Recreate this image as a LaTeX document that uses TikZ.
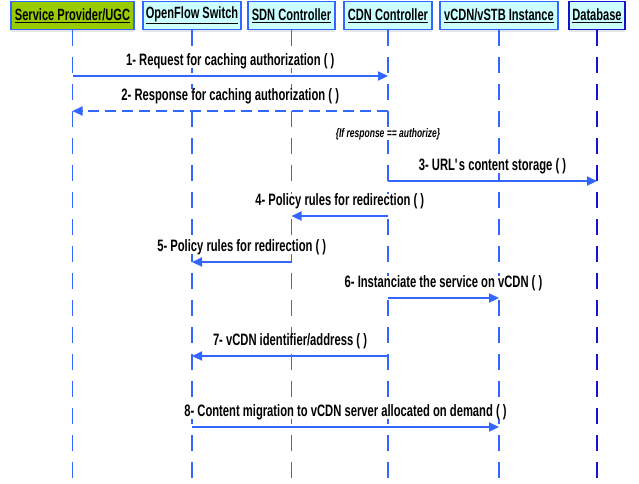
\documentclass[tikz,border=0pt]{standalone}
\usepackage{fontspec}
\setmainfont{Liberation Sans}[FakeStretch=0.68]
\usetikzlibrary{arrows.meta,positioning,shadows}
\definecolor{seqBlue}{RGB}{51,102,255}
\definecolor{seqBlueDark}{RGB}{20,20,205}
\definecolor{seqCyan}{RGB}{204,255,255}
\definecolor{seqGreen}{RGB}{153,204,0}
\tikzset{
  actor/.style={draw=seqBlue, line width=1.6pt, fill=seqCyan, minimum height=28pt, inner sep=0pt,
    font=\fontsize{16.3}{18}\selectfont\bfseries,
    drop shadow={shadow xshift=0pt, shadow yshift=-2.5pt, opacity=0.2}},
  lifeline/.style={seqBlue, line width=1.6pt, dash pattern=on 16pt off 11pt},
  msg/.style={seqBlue, line width=2.2pt, -{Triangle[length=10pt,width=9pt]}},
  reply/.style={msg, dash pattern=on 11pt off 6pt},
  lbl/.style={above=6.5pt, inner sep=0pt, text depth=0.25em, text=black, fill=white,
    font=\fontsize{16.5}{18}\selectfont\bfseries}
}

\begin{document}
\begin{tikzpicture}[x=1pt,y=-1pt]
\useasboundingbox (0,0) rectangle (639,483);
\coordinate (bottom) at (0,483);

% actors
\node[actor, fill=seqGreen, minimum width=123pt] (sp) at (72.5,15.5) {\underline{Service Provider/UGC}};
\node[actor, minimum width=98pt] (ofs) at (192,15.5) {\underline{OpenFlow Switch}};
\node[actor, minimum width=87pt] (sdn) at (291.5,15.5) {\underline{SDN Controller}};
\node[actor, minimum width=88pt] (cdn) at (388,15.5) {\underline{CDN Controller}};
\node[actor, minimum width=118pt] (vcdn) at (499,15.5) {\underline{vCDN/vSTB Instance}};
\node[actor, draw=seqBlueDark, minimum width=56pt] (db) at (597,15.5) {\underline{Database}};

\foreach \a in {sp,ofs,sdn,cdn,vcdn}{
  \draw[lifeline] (\a.south) -- (\a.south |- bottom);
}
\draw[lifeline, seqBlueDark] (db.south) -- (db.south |- bottom);

% messages
\draw[msg] (sp |- 0,76) -- node[lbl] (l1) {1- Request for caching authorization ( )} (cdn |- 0,76);
\draw[reply] (cdn |- 0,111) -- node[lbl] (l2) {2- Response for caching authorization ( )} (sp |- 0,111);
\node[fill=white, inner sep=0pt, font=\fontsize{12.5}{14}\selectfont\bfseries\itshape] (cond) at (388,134) {\{If response == authorize\}};
\draw[msg] (cdn |- 0,181) -- node[lbl] (l3) {3- URL\textquotesingle s content storage ( )} (db |- 0,181);
\draw[msg] (cdn |- 0,216) -- node[lbl] (l4) {4- Policy rules for redirection ( )} (sdn |- 0,216);
\draw[msg] (sdn |- 0,262) -- node[lbl] (l5) {5- Policy rules for redirection ( )} (ofs |- 0,262);
\draw[msg] (cdn |- 0,298) -- node[lbl] (l6) {6- Instanciate the service on vCDN ( )} (vcdn |- 0,298);
\draw[msg] (cdn |- 0,356) -- node[lbl] (l7) {7- vCDN identifier/address ( )} (ofs |- 0,356);
\draw[msg] (ofs |- 0,427) -- node[lbl] (l8) {8- Content migration to vCDN server allocated on demand ( )} (vcdn |- 0,427);
\end{tikzpicture}
\end{document}
